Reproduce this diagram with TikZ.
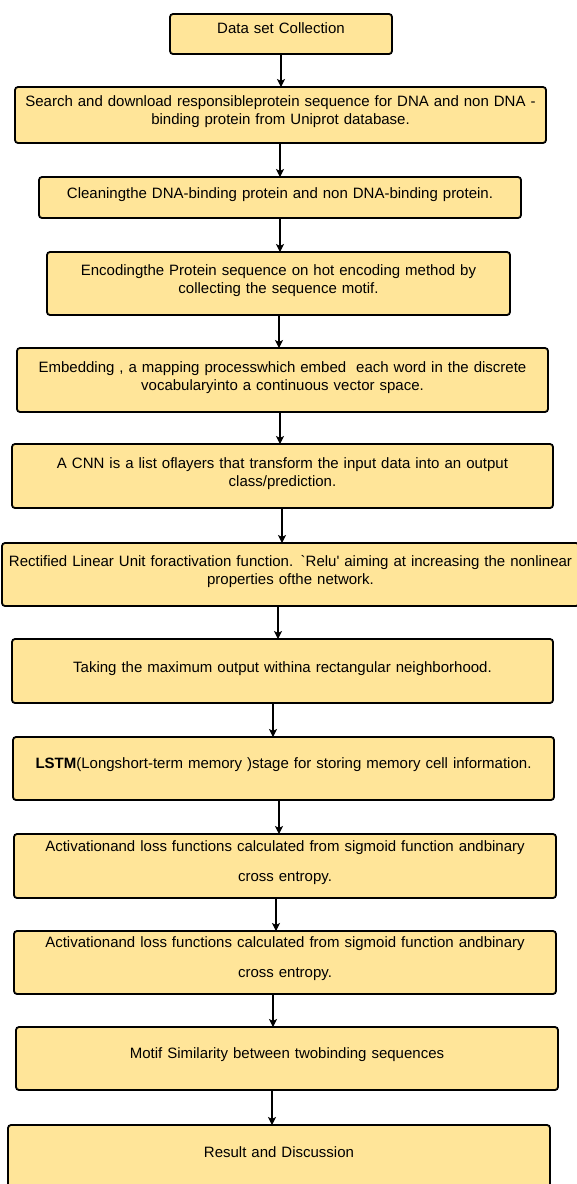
\documentclass[tikz,border=0pt]{standalone}
\usepackage{fontspec}
\setmainfont{Liberation Sans}[Ligatures=TeXOff]
\usetikzlibrary{arrows.meta}
\definecolor{stagefill}{HTML}{FFE599}
\newcommand{\stagefont}{\fontsize{15}{18}\selectfont}

\begin{document}
\begin{tikzpicture}[x=1pt,y=-1pt,
		stage/.style={draw=black,line width=1.8pt,rounded corners=3pt,fill=stagefill,
			anchor=north west,inner sep=0pt,outer sep=0pt,align=center,font=\stagefont},
		flow/.style={line width=1.1pt,-{Stealth[length=8pt,width=8pt,inset=2pt]}}]
		\useasboundingbox[fill=white] (0,0) rectangle (577,1184);
		\node[stage,text width=222pt,minimum width=222pt,text height=19pt,text depth=21pt] (b1) at (170,14)
			{Data set Collection};
		\node[stage,text width=531pt,minimum width=531pt,text height=19pt,text depth=37pt] (b2) at (15,87)
			{Search and download responsibleprotein sequence for DNA and non DNA -\\binding protein from Uniprot database.};
		\node[stage,text width=482pt,minimum width=482pt,text height=21pt,text depth=20pt] (b3) at (39,177)
			{Cleaningthe DNA-binding protein and non DNA-binding protein.};
		\node[stage,text width=463pt,minimum width=463pt,text height=23pt,text depth=40pt] (b4) at (47,252)
			{Encodingthe Protein sequence on hot encoding method by\\collecting the sequence motif.};
		\node[stage,text width=531pt,minimum width=531pt,text height=24pt,text depth=40pt] (b5) at (17,348)
			{Embedding , a mapping processwhich embed\ \ each word in the discrete\\vocabularyinto a continuous vector space.};
		\node[stage,text width=541pt,minimum width=541pt,text height=24pt,text depth=40pt] (b6) at (12,444)
			{A CNN is a list oflayers that transform the input data into an output\\class/prediction.};
		\node[stage,text width=577pt,minimum width=577pt,text height=23pt,text depth=40pt] (b7) at (2,543)
			{Rectified Linear Unit foractivation function. `Relu' aiming at increasing the nonlinear\\properties ofthe network.};
		\node[stage,text width=541pt,minimum width=541pt,text height=33pt,text depth=31pt] (b8) at (12,639)
			{Taking the maximum output withina rectangular neighborhood.};
		\node[stage,text width=541pt,minimum width=541pt,text height=31pt,text depth=32pt] (b9) at (13,737)
			{\textbf{LSTM}(Longshort-term memory )stage for storing memory cell information.};
		\node[stage,font={\fontsize{15}{30}\selectfont},text width=542pt,minimum width=542pt,text height=17pt,text depth=47pt] (b10) at (14,834)
			{Activationand loss functions calculated from sigmoid function andbinary\\cross entropy.};
		\node[stage,font={\fontsize{15}{30}\selectfont},text width=542pt,minimum width=542pt,text height=16pt,text depth=47pt] (b11) at (14,931)
			{Activationand loss functions calculated from sigmoid function andbinary\\cross entropy.};
		\node[stage,text width=542pt,minimum width=542pt,text height=31pt,text depth=32pt] (b12) at (16,1027)
			{Motif Similarity between twobinding sequences};
		\node[stage,text width=542pt,minimum width=542pt,text height=32pt,text depth=38pt] (b13) at (8,1125)
			{Result and Discussion};
		\draw[flow] (b1.south -| 281,0) -- (b2.north -| 281,0);
		\draw[flow] (b2.south -| 280,0) -- (b3.north -| 280,0);
		\draw[flow] (b3.south -| 280,0) -- (b4.north -| 280,0);
		\draw[flow] (b4.south -| 279,0) -- (b5.north -| 279,0);
		\draw[flow] (b5.south -| 280,0) -- (b6.north -| 280,0);
		\draw[flow] (b6.south -| 282,0) -- (b7.north -| 282,0);
		\draw[flow] (b7.south -| 278,0) -- (b8.north -| 278,0);
		\draw[flow] (b8.south -| 273,0) -- (b9.north -| 273,0);
		\draw[flow] (b9.south -| 279,0) -- (b10.north -| 279,0);
		\draw[flow] (b10.south -| 276,0) -- (b11.north -| 276,0);
		\draw[flow] (b11.south -| 273,0) -- (b12.north -| 273,0);
		\draw[flow] (b12.south -| 272,0) -- (b13.north -| 272,0);
\end{tikzpicture}
\end{document}
